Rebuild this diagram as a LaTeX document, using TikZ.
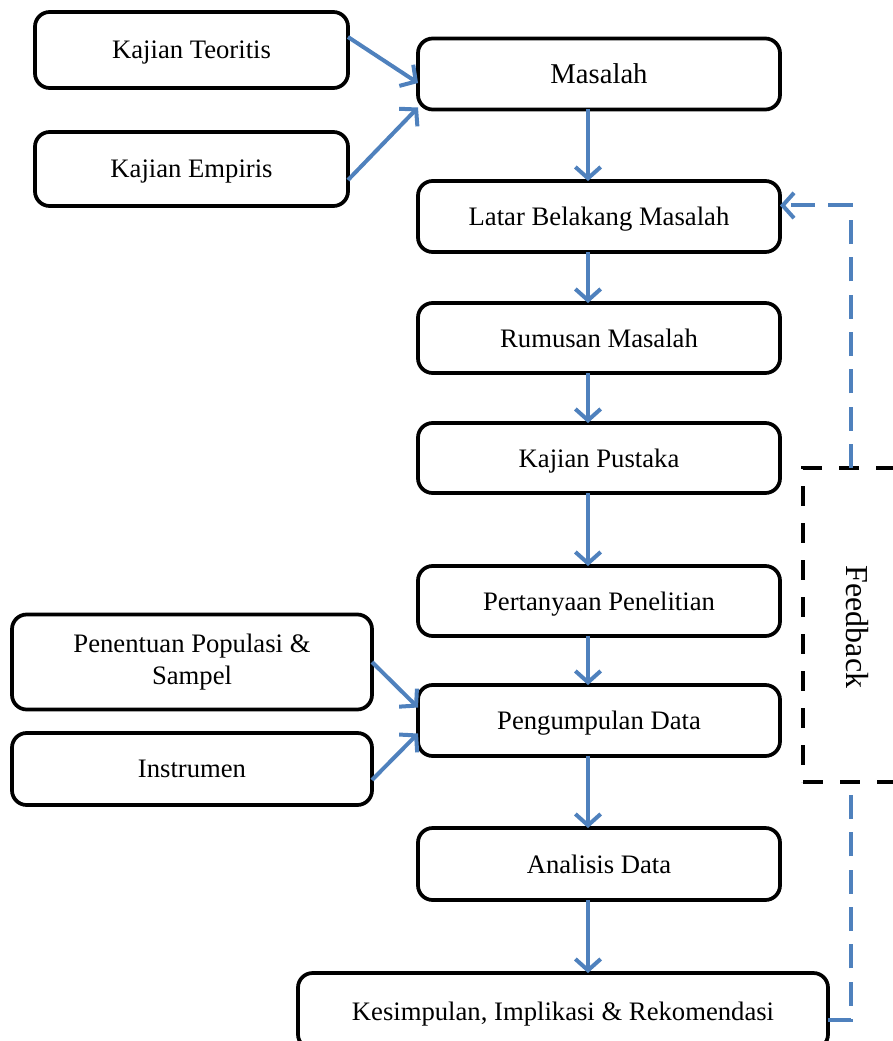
\documentclass[tikz,border=0pt]{standalone}
\usepackage{fontspec}
\setmainfont{Liberation Serif}
\usetikzlibrary{arrows.meta,calc}
\definecolor{flowblue}{HTML}{4F81BD}
\begin{document}
\begin{tikzpicture}[x=0.75pt,y=-0.75pt,
  box/.style={draw, line width=2.8pt, rounded corners=11pt, inner sep=0pt, outer sep=0pt,
    font=\fontsize{20}{24}\selectfont, align=center},
  oneline/.style={text depth=0pt},
  bw/.style={minimum width=#1*0.75pt},
  bh/.style={minimum height=#1*0.75pt},
  flow/.style={draw=flowblue, line width=3pt,
    -{Straight Barb[length=8.5pt,width=19pt]}},
  fbline/.style={draw=flowblue, line width=3pt, dash pattern=on 18pt off 10pt},
  fbframe/.style={draw, line width=3pt, dash pattern=on 15pt off 12.75pt, inner sep=0pt, outer sep=0pt}
]
\useasboundingbox (0,0) rectangle (892,1041);

% main column
\node[box,oneline,bw=362,bh=71,font=\fontsize{21.5}{25}\selectfont] (mas) at (599,74) {Masalah};
\node[box,oneline,bw=362,bh=71] (lbm) at (599,216.5) {Latar Belakang Masalah};
\node[box,oneline,bw=362,bh=70] (rum) at (599,338) {Rumusan Masalah};
\node[box,oneline,bw=362,bh=70] (kp)  at (599,458) {Kajian Pustaka};
\node[box,oneline,bw=362,bh=70] (pp)  at (599,601) {Pertanyaan Penelitian};
\node[box,oneline,bw=362,bh=71] (pd)  at (599,720.5) {Pengumpulan Data};
\node[box,oneline,bw=362,bh=72] (ad)  at (599,864) {Analisis Data};
\node[box,oneline,bw=530,bh=76] (kes) at (563,1011) {Kesimpulan, Implikasi \& Rekomendasi};

% side inputs
\node[box,oneline,bw=313,bh=76] (kt)  at (191.5,50) {Kajian Teoritis};
\node[box,oneline,bw=313,bh=74] (ke)  at (191.5,169) {Kajian Empiris};
\node[box,bw=360,bh=95] (pps) at (192,662) {Penentuan Populasi \&\\Sampel};
\node[box,oneline,bw=360,bh=72] (ins) at (192,769) {Instrumen};

% feedback frame
\node[fbframe,minimum width=130*0.75pt,minimum height=314*0.75pt] (fbbox) at (868,625) {};
\node[font=\fontsize{24}{28}\selectfont, rotate=-90] (fbtext) at (857,627) {Feedback};
\coordinate (fbin)  at (851,782);
\coordinate (fbout) at (851,468);

% vertical flow
\foreach \a/\b in {mas/lbm, lbm/rum, rum/kp, kp/pp, pp/pd, pd/ad}
  \draw[flow] ($(\a.south)+(-11,0)$) -- ($(\b.north)+(-11,0)$);
\draw[flow] ($(ad.south)+(-11,0)$) -- ($(kes.north)+(25,0)$);

% inputs into the column
\draw[flow] ($(kt.east)+(0,-13)$) -- ($(mas.west)+(0,9)$);
\draw[flow] ($(ke.east)+(0,11)$) -- ($(mas.south west)+(0,-2)$);
\draw[flow] ($(pps.east)+(0,0)$) -- ($(pd.west)+(0,-13)$);
\draw[flow] ($(ins.east)+(0,11)$) -- ($(pd.west)+(0,13)$);

% feedback loop
\draw[fbline] ($(kes.east)+(0,9)$) -| (fbin);
\draw[fbline,-{Straight Barb[length=8.5pt,width=19pt]}] (fbout) |- ($(lbm.east)+(0,-11)$);
\end{tikzpicture}
\end{document}
